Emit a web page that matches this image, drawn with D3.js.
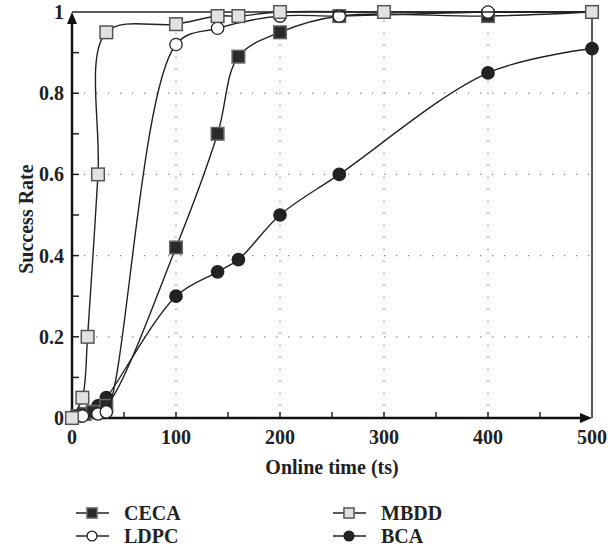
<!DOCTYPE html>
<html>
<head>
<meta charset="utf-8">
<script src="https://cdn.jsdelivr.net/npm/d3@7"></script>
<style>
  body { margin: 0; background: #fff; }
  text { font-family: "Liberation Serif", "DejaVu Serif", serif; font-weight: bold; fill: #222; }
</style>
</head>
<body>
<svg id="chart" width="608" height="554"></svg>
<script>
// data
var cecaX = [0, 5, 12, 20, 33, 100, 140, 160, 200, 257, 400, 500];
var cecaY = [0, 0.005, 0.01, 0.015, 0.03, 0.42, 0.70, 0.89, 0.95, 0.99, 0.99, 1.0];
var mbddX = [0, 10, 15, 25, 33, 100, 140, 160, 200, 300, 500];
var mbddY = [0, 0.05, 0.2, 0.6, 0.95, 0.97, 0.99, 0.99, 1.0, 1.0, 1.0];
var ldpcX = [0, 10, 25, 33, 100, 140, 200, 257, 400, 500];
var ldpcY = [0, 0.005, 0.01, 0.015, 0.92, 0.96, 0.99, 0.99, 1.0, 1.0];
var bcaX = [0, 8, 15, 25, 33, 100, 140, 160, 200, 257, 400, 500];
var bcaY = [0, 0.005, 0.01, 0.03, 0.05, 0.30, 0.36, 0.39, 0.50, 0.60, 0.85, 0.91];

var xTicks = [0, 100, 200, 300, 400, 500];
var yTicks = [0, 0.2, 0.4, 0.6, 0.8, 1];

var series = [
  {name: "CECA", xs: cecaX, ys: cecaY, shape: "square", fill: "#2a2a2a", stroke: "#666"},
  {name: "LDPC", xs: ldpcX, ys: ldpcY, shape: "circle", fill: "#fff", stroke: "#222"},
  {name: "MBDD", xs: mbddX, ys: mbddY, shape: "square", fill: "#e2e2e2", stroke: "#555"},
  {name: "BCA", xs: bcaX, ys: bcaY, shape: "circle", fill: "#222", stroke: "#222"}
];

var svg = d3.select("#chart");
var pLeft = 72, pRight = 592, pTop = 12, pBottom = 418;

var x = d3.scaleLinear().domain([0, 500]).range([pLeft, pRight]);
var y = d3.scaleLinear().domain([0, 1]).range([pBottom, pTop]);

// dotted grid
svg.append("g").selectAll("line")
  .data([100, 200, 300, 400])
  .enter().append("line")
    .attr("x1", d => x(d)).attr("x2", d => x(d))
    .attr("y1", pBottom).attr("y2", pTop)
    .attr("stroke", "#888").attr("stroke-width", 1.3)
    .attr("stroke-dasharray", "1.3,10.7");
svg.append("g").selectAll("line")
  .data([0.2, 0.4, 0.6, 0.8])
  .enter().append("line")
    .attr("x1", pLeft).attr("x2", pRight)
    .attr("y1", d => y(d)).attr("y2", d => y(d))
    .attr("stroke", "#888").attr("stroke-width", 1.3)
    .attr("stroke-dasharray", "1.3,10.7");

// frame top and right
svg.append("line").attr("x1", pLeft).attr("x2", pRight).attr("y1", pTop).attr("y2", pTop)
  .attr("stroke", "#222").attr("stroke-width", 1.5);
svg.append("line").attr("x1", pRight).attr("x2", pRight).attr("y1", pTop).attr("y2", pBottom)
  .attr("stroke", "#222").attr("stroke-width", 1.5);

// minor ticks
svg.append("g").selectAll("line")
  .data(d3.range(50, 500, 50))
  .enter().append("line")
    .attr("x1", d => x(d)).attr("x2", d => x(d))
    .attr("y1", pBottom).attr("y2", pBottom - 6)
    .attr("stroke", "#222").attr("stroke-width", 1.5);
svg.append("g").selectAll("line")
  .data(d3.range(1, 10).map(d => d / 10))
  .enter().append("line")
    .attr("x1", pLeft).attr("x2", pLeft + 7)
    .attr("y1", d => y(d)).attr("y2", d => y(d))
    .attr("stroke", "#222").attr("stroke-width", 1.5);

// main axes with arrows
svg.append("line").attr("x1", pLeft).attr("x2", pRight - 8).attr("y1", pBottom).attr("y2", pBottom)
  .attr("stroke", "#111").attr("stroke-width", 2.5);
svg.append("line").attr("x1", pLeft).attr("x2", pLeft).attr("y1", pBottom).attr("y2", pTop + 8)
  .attr("stroke", "#111").attr("stroke-width", 2.5);
svg.append("path")
  .attr("d", `M${pRight},${pBottom} L${pRight - 12},${pBottom - 5} L${pRight - 12},${pBottom + 5} Z`)
  .attr("fill", "#111");
svg.append("path")
  .attr("d", `M${pLeft},${pTop} L${pLeft - 5},${pTop + 12} L${pLeft + 5},${pTop + 12} Z`)
  .attr("fill", "#111");

// tick labels
svg.append("g").selectAll("text")
  .data(xTicks)
  .enter().append("text")
    .attr("x", d => x(d)).attr("y", pBottom + 26)
    .attr("text-anchor", "middle").attr("font-size", 20)
    .text(d => d);
svg.append("g").selectAll("text")
  .data(yTicks)
  .enter().append("text")
    .attr("x", pLeft - 8).attr("y", d => y(d) + 7)
    .attr("text-anchor", "end").attr("font-size", 20)
    .text(d => d);

// axis titles
svg.append("text")
  .attr("x", x(250)).attr("y", 474)
  .attr("text-anchor", "middle").attr("font-size", 20)
  .text("Online time (ts)");
svg.append("text")
  .attr("transform", "translate(33," + y(0.49) + ") rotate(-90)")
  .attr("text-anchor", "middle").attr("font-size", 20)
  .text("Success Rate");

// curves
var line = d3.line()
  .x(d => x(d[0])).y(d => y(d[1]))
  .curve(d3.curveCatmullRom.alpha(0.5));

function drawMarker(g, s, cx, cy, k) {
  k = k || 1;
  if (s.shape === "square") {
    var h = 6.3 * k;
    g.append("rect")
      .attr("x", cx - h).attr("y", cy - h)
      .attr("width", 2 * h).attr("height", 2 * h)
      .attr("fill", s.fill).attr("stroke", s.stroke).attr("stroke-width", 1.5);
  } else {
    g.append("circle")
      .attr("cx", cx).attr("cy", cy).attr("r", 6.2 * k)
      .attr("fill", s.fill).attr("stroke", s.stroke).attr("stroke-width", 1.3);
  }
}

// draw order: BCA, CECA, LDPC, MBDD
var order = ["BCA", "CECA", "LDPC", "MBDD"];
order.forEach(function(name) {
  var s = series.find(d => d.name === name);
  var pts = s.xs.map((v, i) => [v, s.ys[i]]);
  svg.append("path")
    .attr("d", line(pts))
    .attr("fill", "none").attr("stroke", "#222").attr("stroke-width", 1.4);
  var g = svg.append("g");
  pts.forEach(p => drawMarker(g, s, x(p[0]), y(p[1])));
});

// legend
var legendPos = [
  {name: "CECA", lx: 76, ly: 513},
  {name: "LDPC", lx: 76, ly: 536},
  {name: "MBDD", lx: 333, ly: 513},
  {name: "BCA", lx: 333, ly: 536}
];
legendPos.forEach(function(l) {
  var s = series.find(d => d.name === l.name);
  var g = svg.append("g");
  g.append("line").attr("x1", l.lx).attr("x2", l.lx + 33)
    .attr("y1", l.ly).attr("y2", l.ly)
    .attr("stroke", "#222").attr("stroke-width", 1.4);
  drawMarker(g, s, l.lx + 16, l.ly, 0.8);
  g.append("text")
    .attr("x", l.lx + 48).attr("y", l.ly + 7)
    .attr("font-size", 20)
    .text(l.name);
});
</script>
</body>
</html>
